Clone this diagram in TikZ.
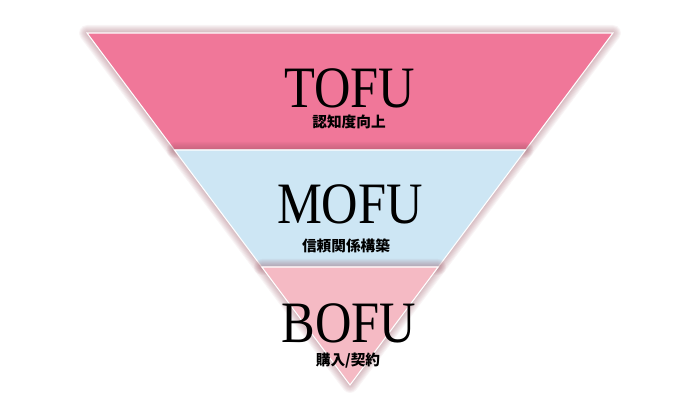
\documentclass[tikz,border=0pt]{standalone}
\usepackage{fontspec}
\setmainfont{Liberation Serif}
\newfontfamily\jpfont{Noto Sans CJK JP}
\usetikzlibrary{positioning}

\begin{document}
\begin{tikzpicture}[x=0.75pt, y=-0.75pt,
    band/.style={draw=white, line width=0.8pt, line join=miter},
    glow/.style={draw=glowcolor, line join=round, opacity=0.06},
    title/.style={inner sep=0pt, text height=29pt, text depth=0pt, font=\fontsize{44}{44}\selectfont},
    sub/.style={inner sep=0pt, text height=8.5pt, text depth=0.5pt, font=\jpfont\bfseries\fontsize{11}{11}\selectfont}]

    % Define colors
    \definecolor{tofucolor}{RGB}{240,119,153}
    \definecolor{mofucolor}{RGB}{205,230,244}
    \definecolor{bofucolor}{RGB}{245,186,196}
    \definecolor{glowcolor}{RGB}{150,80,95}

    \useasboundingbox (0,0) rectangle (700,409);

    % Bands, each with its glow
    \foreach \w in {2,4,...,16}
        \draw[glow, line width=\w*0.75pt] (87,33) -- (613,33) -- (525.6,150) -- (174.4,150) -- cycle;
    \draw[band, fill=tofucolor] (87,33) -- (613,33) -- (525.6,150) -- (174.4,150) -- cycle;

    \foreach \w in {2,4,...,16}
        \draw[glow, line width=\w*0.75pt] (174.4,150) -- (525.6,150) -- (438.2,267) -- (261.8,267) -- cycle;
    \draw[band, fill=mofucolor] (174.4,150) -- (525.6,150) -- (438.2,267) -- (261.8,267) -- cycle;

    \foreach \w in {2,4,...,16}
        \draw[glow, line width=\w*0.75pt] (261.8,267) -- (438.2,267) -- (350,385) -- cycle;
    \draw[band, fill=bofucolor] (261.8,267) -- (438.2,267) -- (350,385) -- cycle;

    % Labels
    \node[title] (tofu) at (350,88) {\scalebox{0.86}[1]{TOFU}};
    \node[sub] (tofusub) at (349,122) {認知度向上};
    \node[title] (mofu) at (350,204) {\scalebox{0.86}[1]{MOFU}};
    \node[sub] (mofusub) at (346,246) {信頼関係構築};
    \node[title] (bofu) at (349,323) {\scalebox{0.86}[1]{BOFU}};
    \node[sub] (bofusub) at (348,360) {購入/契約};

\end{tikzpicture}
\end{document}
